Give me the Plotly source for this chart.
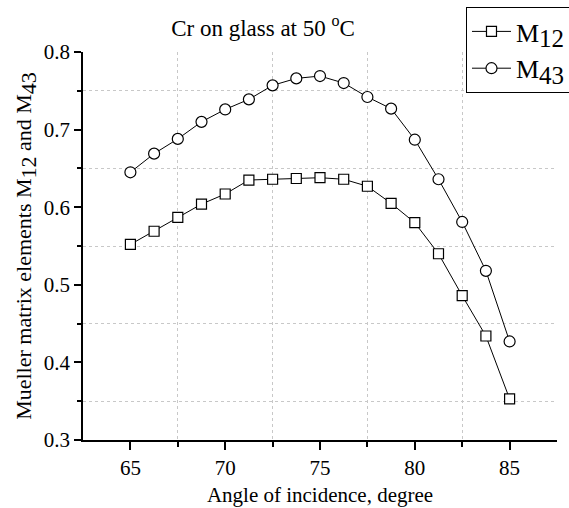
import plotly.graph_objects as go

angle = [65 + 1.25 * i for i in range(17)]
m12 = [0.552, 0.569, 0.587, 0.604, 0.617, 0.635, 0.636, 0.637, 0.638, 0.636,
       0.627, 0.605, 0.580, 0.540, 0.486, 0.434, 0.353]
m43 = [0.645, 0.669, 0.688, 0.710, 0.726, 0.739, 0.757, 0.766, 0.769, 0.760,
       0.742, 0.727, 0.687, 0.636, 0.581, 0.518, 0.427]

FONT = "Liberation Serif"


def sub(t, px):
    return f"<sub><span style='font-size:{px}px'>{t}</span></sub>"


fig = go.Figure()
fig.add_trace(go.Scatter(
    x=angle, y=m12, mode="lines+markers", name="M" + sub("12", 25),
    line=dict(color="black", width=1),
    marker=dict(symbol="square", size=10, color="white",
                line=dict(color="black", width=1.2)),
))
fig.add_trace(go.Scatter(
    x=angle, y=m43, mode="lines+markers", name="M" + sub("43", 25),
    line=dict(color="black", width=1),
    marker=dict(symbol="circle", size=11, color="white",
                line=dict(color="black", width=1.2)),
))

fig.update_layout(
    width=569, height=508,
    margin=dict(l=83, r=12, t=52, b=68, autoexpand=False),
    paper_bgcolor="white", plot_bgcolor="white",
    font=dict(family=FONT, size=21, color="black"),
    title=dict(text="Cr on glass at 50 <sup>o</sup>C", x=263/569, xanchor="center",
               y=1 - 28/508, yanchor="middle", font=dict(size=23)),
    showlegend=True,
    legend=dict(x=0.808, y=1.116, xanchor="left", yanchor="top",
                bordercolor="black", borderwidth=1, bgcolor="white",
                font=dict(size=26), tracegroupgap=0, itemwidth=39),
)

fig.update_xaxes(
    range=[62.5, 87.5], tickvals=[65, 70, 75, 80, 85],
    ticks="outside", ticklen=8, tickwidth=1.5, tickcolor="black",
    showline=True, linecolor="black", linewidth=1.5, mirror=False,
    showgrid=False, zeroline=False, tickfont=dict(size=21),
    minor=dict(tickvals=[67.5, 72.5, 77.5, 82.5], ticks="outside", ticklen=5,
               tickwidth=1.5, tickcolor="black", showgrid=True,
               gridcolor="#c8c8c8", griddash="dot", gridwidth=1),
    title=dict(text="Angle of incidence, degree", standoff=8, font=dict(size=21)),
)
fig.update_yaxes(
    range=[0.3, 0.8], tickvals=[0.3, 0.4, 0.5, 0.6, 0.7, 0.8],
    ticktext=["0.3", "0.4", "0.5", "0.6", "0.7", "0.8"],
    ticks="outside", ticklen=7, tickwidth=1.5, tickcolor="black",
    showline=True, linecolor="black", linewidth=1.5, mirror=False,
    showgrid=False, zeroline=False, tickfont=dict(size=21),
    minor=dict(tickvals=[0.35, 0.45, 0.55, 0.65, 0.75], ticks="outside", ticklen=4,
               tickwidth=1.5, tickcolor="black", showgrid=True,
               gridcolor="#c8c8c8", griddash="dot", gridwidth=1),
    title=dict(text="Mueller matrix elements M" + sub("12", 22) + " and M" + sub("43", 22),
               standoff=6, font=dict(size=22)),
)

fig.write_html("out.html")
